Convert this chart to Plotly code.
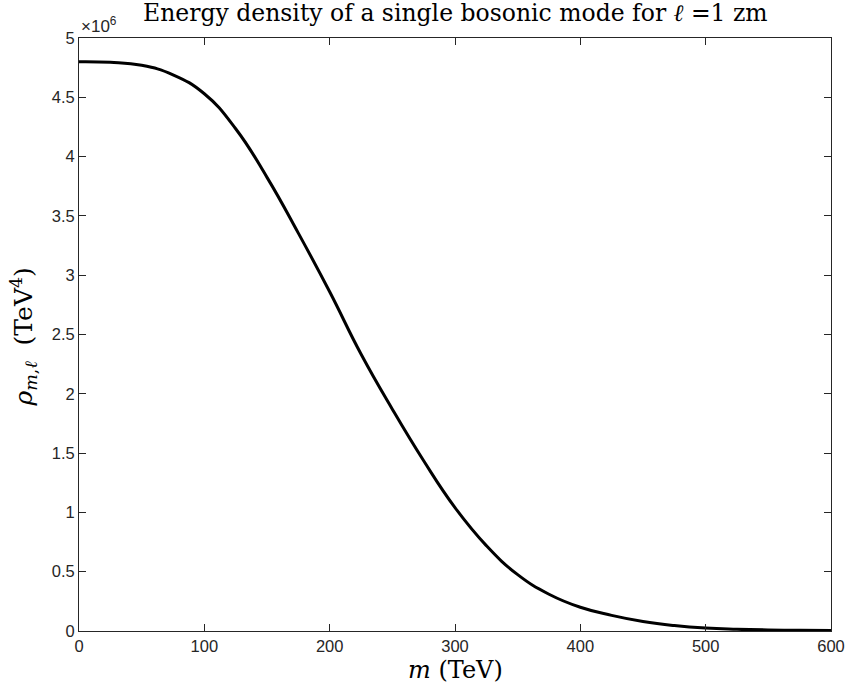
import plotly.graph_objects as go

# Data
m_tev = [0, 25, 50, 75, 100, 125, 150, 175, 200, 225, 250, 275, 300,
         325, 350, 375, 400, 425, 450, 475, 500, 525, 550, 575, 600]
rho_1e6 = [4.800, 4.795, 4.770, 4.690, 4.530, 4.235, 3.825, 3.355, 2.860,
           2.335, 1.870, 1.435, 1.040, 0.720, 0.475, 0.310, 0.200, 0.132,
           0.080, 0.046, 0.025, 0.015, 0.009, 0.006, 0.004]
x_ticks = [0, 100, 200, 300, 400, 500, 600]
y_ticks = [0, 0.5, 1, 1.5, 2, 2.5, 3, 3.5, 4, 4.5, 5]
y_tick_labels = ["0", "0.5", "1", "1.5", "2", "2.5", "3", "3.5", "4", "4.5", "5"]

rho = [v * 1e6 for v in rho_1e6]
axis_color = "#262626"
serif = "DejaVu Serif, Liberation Serif, serif"
sans = "Liberation Sans, Arial, Helvetica, sans-serif"

fig = go.Figure()
fig.add_trace(go.Scatter(x=m_tev, y=rho, mode="lines",
                         line=dict(color="black", width=3, shape="spline", smoothing=1.3),
                         showlegend=False, hoverinfo="skip"))

fig.update_layout(
    width=846, height=694, autosize=False,
    margin=dict(l=79, r=15, t=38, b=63),
    paper_bgcolor="white", plot_bgcolor="white",
    font=dict(family=sans, size=16.5, color=axis_color),
)
fig.update_xaxes(range=[0, 600], tickvals=x_ticks, ticktext=[str(t) for t in x_ticks],
                 automargin=False,
                 showgrid=False, zeroline=False, showline=True, linecolor=axis_color,
                 linewidth=1, mirror="allticks", ticks="inside", ticklen=7,
                 tickcolor=axis_color, tickfont=dict(family=sans, size=16.5, color=axis_color))
fig.update_yaxes(range=[0, 5e6], tickvals=[t * 1e6 for t in y_ticks], ticktext=y_tick_labels,
                 automargin=False,
                 showgrid=False, zeroline=False, showline=True, linecolor=axis_color,
                 linewidth=1, mirror="allticks", ticks="inside", ticklen=7,
                 tickcolor=axis_color, tickfont=dict(family=sans, size=16.5, color=axis_color))

fig.add_annotation(text="Energy density of a single bosonic mode for <i>ℓ</i> =1 zm",
                   xref="paper", yref="paper", x=0.5, y=1.0, yshift=9,
                   xanchor="center", yanchor="bottom", showarrow=False,
                   font=dict(family=serif, size=23.5, color="black"))
fig.add_annotation(text="×10<sup>6</sup>", xref="paper", yref="paper", x=0.0, y=1.0,
                   xanchor="left", yanchor="bottom", showarrow=False, yshift=0,
                   font=dict(family=sans, size=17, color=axis_color))
fig.add_annotation(text="<i>m</i> (TeV)", xref="paper", yref="paper", x=0.5, y=0,
                   yshift=-39, xanchor="center", yanchor="middle", showarrow=False,
                   font=dict(family=serif, size=24, color="black"))
fig.add_annotation(text="<i>ρ</i><sub><i>m</i>,<i>ℓ</i></sub>&nbsp;&nbsp;(TeV<sup>4</sup>)",
                   xref="paper", yref="paper", x=0, xshift=-55, y=0.495,
                   xanchor="center", yanchor="middle", textangle=-90, showarrow=False,
                   font=dict(family=serif, size=25, color="black"))

fig.write_html("out.html",
               config={"responsive": False, "displayModeBar": False},
               post_script="document.body.style.margin='0';document.body.style.padding='0';"
                           "document.body.style.overflow='hidden';"
                           "document.documentElement.style.overflow='hidden';")
